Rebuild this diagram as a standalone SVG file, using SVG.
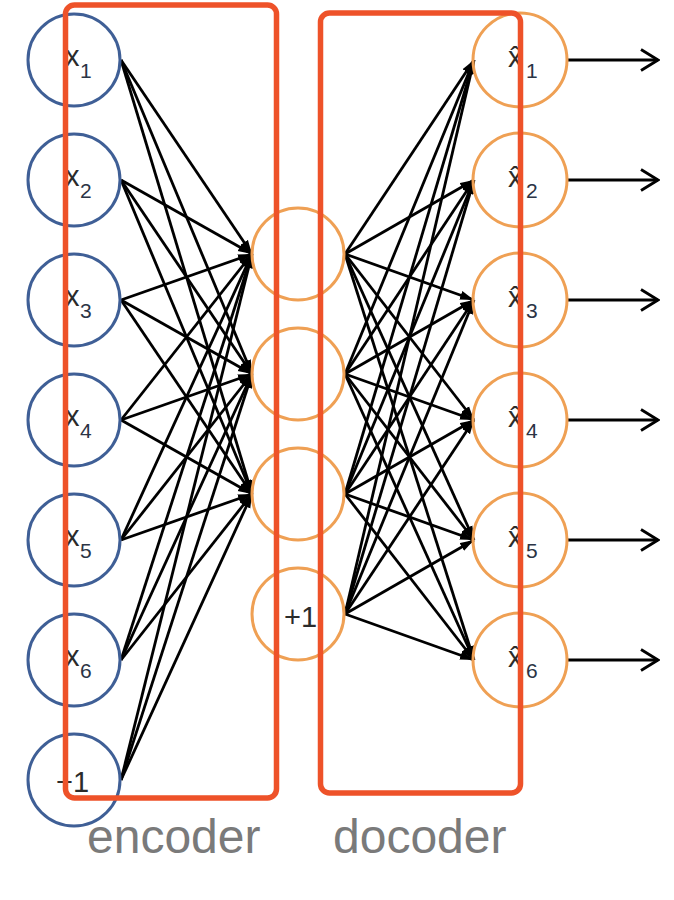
<svg xmlns="http://www.w3.org/2000/svg" width="674" height="900" viewBox="0 0 674 900">
<style>
.in{fill:none;stroke:#3F5F96;stroke-width:3}
.hid{fill:none;stroke:#EFA054;stroke-width:3}
.out{fill:none;stroke:#EFA054;stroke-width:3}
.x{font-family:"Liberation Sans",Arial,sans-serif;font-size:29px;fill:#2b2b2b}
.s{font-size:21px;fill:#2b3445}
.one{font-family:"Liberation Sans",Arial,sans-serif;font-size:29px;fill:#2b2b2b}
.cap{font-family:"Liberation Sans",Arial,sans-serif;font-size:48px;fill:#7a7a7a}
.c line{stroke:#000;stroke-width:2.8}
.e line,.d line{marker-end:url(#ah)}
.o line{stroke-width:2.8;marker-end:url(#open)}
.box{fill:none;stroke:#EE5229;stroke-width:5.5}
</style>
<defs>
<marker id="ah" viewBox="0 0 14 10" refX="14" refY="5" markerWidth="14" markerHeight="10" markerUnits="userSpaceOnUse" orient="auto">
<path d="M0,0.5 L14,5 L0,9.5 z" fill="#000"/>
</marker>
<marker id="open" viewBox="0 0 20 24" refX="18" refY="12" markerWidth="20" markerHeight="24" markerUnits="userSpaceOnUse" orient="auto">
<path d="M1,1.5 L18,12 L1,22.5" fill="none" stroke="#000" stroke-width="2.8"/>
</marker>
</defs>

<g id="connectors" class="c">
<g class="e">
<line x1="121" y1="60" x2="252" y2="254"/><line x1="121" y1="60" x2="252" y2="374"/><line x1="121" y1="60" x2="252" y2="494"/>
<line x1="121" y1="180" x2="252" y2="254"/><line x1="121" y1="180" x2="252" y2="374"/><line x1="121" y1="180" x2="252" y2="494"/>
<line x1="121" y1="300" x2="252" y2="254"/><line x1="121" y1="300" x2="252" y2="374"/><line x1="121" y1="300" x2="252" y2="494"/>
<line x1="121" y1="420" x2="252" y2="254"/><line x1="121" y1="420" x2="252" y2="374"/><line x1="121" y1="420" x2="252" y2="494"/>
<line x1="121" y1="540" x2="252" y2="254"/><line x1="121" y1="540" x2="252" y2="374"/><line x1="121" y1="540" x2="252" y2="494"/>
<line x1="121" y1="660" x2="252" y2="254"/><line x1="121" y1="660" x2="252" y2="374"/><line x1="121" y1="660" x2="252" y2="494"/>
<line x1="121" y1="780" x2="252" y2="254"/><line x1="121" y1="780" x2="252" y2="374"/><line x1="121" y1="780" x2="252" y2="494"/>
</g>
<g class="d">
<line x1="345" y1="254" x2="474" y2="60"/><line x1="345" y1="254" x2="474" y2="180"/><line x1="345" y1="254" x2="474" y2="300"/><line x1="345" y1="254" x2="474" y2="420"/><line x1="345" y1="254" x2="474" y2="540"/><line x1="345" y1="254" x2="474" y2="660"/>
<line x1="345" y1="374" x2="474" y2="60"/><line x1="345" y1="374" x2="474" y2="180"/><line x1="345" y1="374" x2="474" y2="300"/><line x1="345" y1="374" x2="474" y2="420"/><line x1="345" y1="374" x2="474" y2="540"/><line x1="345" y1="374" x2="474" y2="660"/>
<line x1="345" y1="494" x2="474" y2="60"/><line x1="345" y1="494" x2="474" y2="180"/><line x1="345" y1="494" x2="474" y2="300"/><line x1="345" y1="494" x2="474" y2="420"/><line x1="345" y1="494" x2="474" y2="540"/><line x1="345" y1="494" x2="474" y2="660"/>
<line x1="345" y1="614" x2="474" y2="60"/><line x1="345" y1="614" x2="474" y2="180"/><line x1="345" y1="614" x2="474" y2="300"/><line x1="345" y1="614" x2="474" y2="420"/><line x1="345" y1="614" x2="474" y2="540"/><line x1="345" y1="614" x2="474" y2="660"/>
</g>
<g class="o">
<line x1="568" y1="60" x2="658" y2="60"/><line x1="568" y1="180" x2="658" y2="180"/><line x1="568" y1="300" x2="658" y2="300"/>
<line x1="568" y1="420" x2="658" y2="420"/><line x1="568" y1="540" x2="658" y2="540"/><line x1="568" y1="660" x2="658" y2="660"/>
</g>
</g>

<g id="in1"><circle class="in" cx="74" cy="60" r="46"/><text class="x" x="65" y="66">x<tspan class="s" x="80" y="78">1</tspan></text></g>
<g id="in2"><circle class="in" cx="74" cy="180" r="46"/><text class="x" x="65" y="186">x<tspan class="s" x="80" y="198">2</tspan></text></g>
<g id="in3"><circle class="in" cx="74" cy="300" r="46"/><text class="x" x="65" y="306">x<tspan class="s" x="80" y="318">3</tspan></text></g>
<g id="in4"><circle class="in" cx="74" cy="420" r="46"/><text class="x" x="65" y="426">x<tspan class="s" x="80" y="438">4</tspan></text></g>
<g id="in5"><circle class="in" cx="74" cy="540" r="46"/><text class="x" x="65" y="546">x<tspan class="s" x="80" y="558">5</tspan></text></g>
<g id="in6"><circle class="in" cx="74" cy="660" r="46"/><text class="x" x="65" y="666">x<tspan class="s" x="80" y="678">6</tspan></text></g>
<g id="bias_in"><circle class="in" cx="74" cy="780" r="46"/><text class="one" x="56" y="792">+1</text></g>

<g id="h1"><circle class="hid" cx="298" cy="254" r="46"/></g>
<g id="h2"><circle class="hid" cx="298" cy="374" r="46"/></g>
<g id="h3"><circle class="hid" cx="298" cy="494" r="46"/></g>
<g id="bias_h"><circle class="hid" cx="298" cy="614" r="46"/><text class="one" x="284" y="627">+1</text></g>

<g id="out1"><circle class="out" cx="520" cy="60" r="47"/><text class="x" x="508" y="67">x̂<tspan class="s" x="526" y="78">1</tspan></text></g>
<g id="out2"><circle class="out" cx="520" cy="180" r="47"/><text class="x" x="508" y="187">x̂<tspan class="s" x="526" y="198">2</tspan></text></g>
<g id="out3"><circle class="out" cx="520" cy="300" r="47"/><text class="x" x="508" y="307">x̂<tspan class="s" x="526" y="318">3</tspan></text></g>
<g id="out4"><circle class="out" cx="520" cy="420" r="47"/><text class="x" x="508" y="427">x̂<tspan class="s" x="526" y="438">4</tspan></text></g>
<g id="out5"><circle class="out" cx="520" cy="540" r="47"/><text class="x" x="508" y="547">x̂<tspan class="s" x="526" y="558">5</tspan></text></g>
<g id="out6"><circle class="out" cx="520" cy="660" r="47"/><text class="x" x="508" y="667">x̂<tspan class="s" x="526" y="678">6</tspan></text></g>

<g id="encoder">
<rect class="box" x="65.5" y="5" width="211" height="793" rx="9"/>
<text class="cap" x="87" y="853">encoder</text>
</g>
<g id="decoder">
<rect class="box" x="320.5" y="13" width="200" height="780" rx="9"/>
<text class="cap" x="333" y="853">docoder</text>
</g>
</svg>
